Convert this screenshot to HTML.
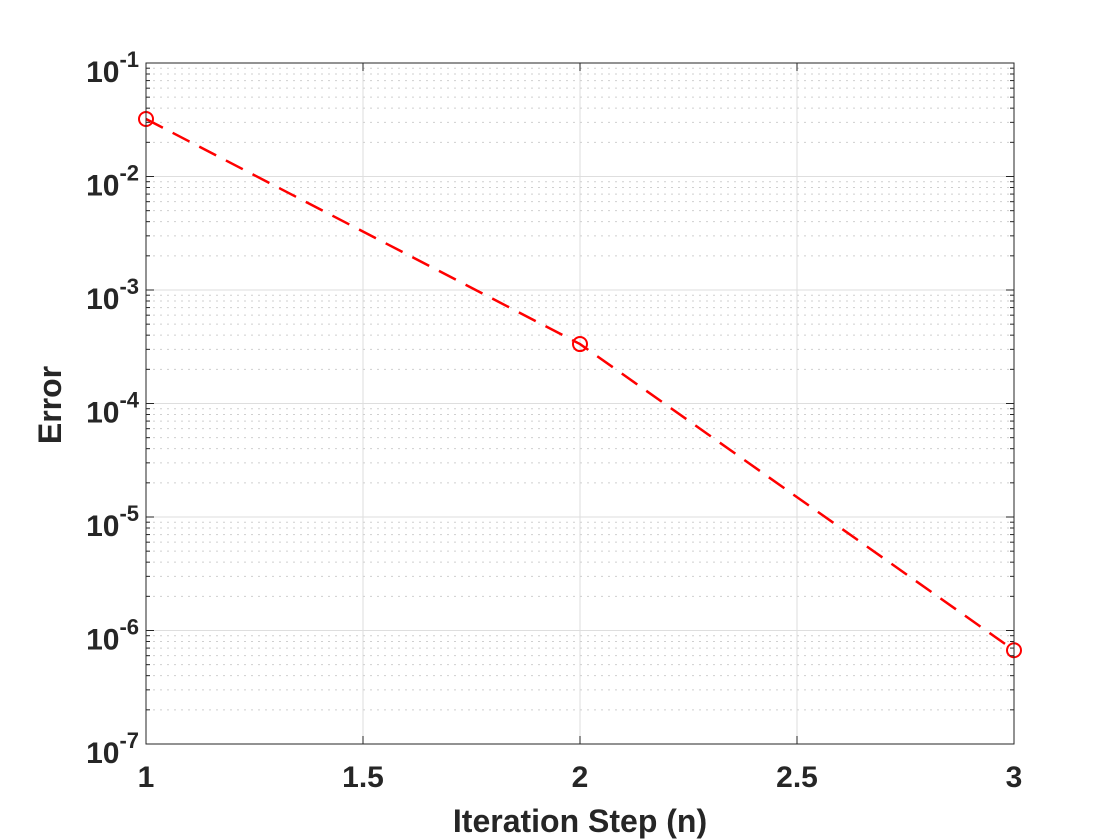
<!DOCTYPE html>
<html><head><meta charset="utf-8"><style>
html,body{margin:0;padding:0;background:#fff;}
svg{display:block;font-family:"Liberation Sans",Arial,sans-serif;}
</style></head><body>
<svg id="chart" width="1120" height="840">
<rect width="1120" height="840" fill="#fff"/>
<g id="grid"></g>
<g id="series"></g>
<g id="axes"></g>
<text x="580" y="832" text-anchor="middle" font-size="32" font-weight="bold" fill="#262626">Iteration Step (n)</text>
<text transform="translate(61,405) rotate(-90)" text-anchor="middle" font-size="32" font-weight="bold" fill="#262626">Error</text>
</svg>
<script>
const xs = [1, 2, 3];
const errs = [0.0321, 0.000334, 6.7e-7];
const xTicks = [1, 1.5, 2, 2.5, 3];
const xTickLabels = ["1", "1.5", "2", "2.5", "3"];
const yExps = [-1, -2, -3, -4, -5, -6, -7];

const L=146,R=1014,T=63,B=744;
const xMin=1,xMax=3,yMinE=-7,yMaxE=-1;
const X=v=>L+(v-xMin)/(xMax-xMin)*(R-L);
const Y=v=>T+(yMaxE-Math.log10(v))/(yMaxE-yMinE)*(B-T);
const NS="http://www.w3.org/2000/svg";
function mk(tag,attrs,parent){const e=document.createElementNS(NS,tag);for(const k in attrs)e.setAttribute(k,attrs[k]);parent.appendChild(e);return e;}
const grid=document.getElementById('grid'),axes=document.getElementById('axes'),ser=document.getElementById('series');

xTicks.forEach(t=>{
  const l=mk('line',{x1:X(t),x2:X(t),y1:T,y2:B,stroke:'#dedede','stroke-width':1},grid);
  
  
});
for(let e=yMinE;e<yMaxE;e++){
  for(let m=1;m<10;m++){
    const v=m*Math.pow(10,e);
    const yy=Y(v);
    const l=mk('line',{x1:L,x2:R,y1:yy,y2:yy,stroke:m===1?'#dedede':'#cfcfcf','stroke-width':1,'stroke-dasharray':m===1?'none':'2,5'},grid);
    
    
    if(m>1){
      mk('line',{x1:L,x2:L+4,y1:yy,y2:yy,stroke:'#262626'},axes);
      mk('line',{x1:R,x2:R-4,y1:yy,y2:yy,stroke:'#262626'},axes);
    }
  }
}
const box=mk('rect',{x:L,y:T,width:R-L,height:B-T,fill:'none',stroke:'#262626','stroke-width':1},axes);


xTicks.forEach((t,i)=>{
  mk('line',{x1:X(t),x2:X(t),y1:B,y2:B-8,stroke:'#262626'},axes);
  mk('line',{x1:X(t),x2:X(t),y1:T,y2:T+8,stroke:'#262626'},axes);
  const tx=mk('text',{x:X(t),y:787,'text-anchor':'middle','font-size':30,'font-weight':'bold',fill:'#262626'},axes);
  tx.textContent=xTickLabels[i];
  
  
});
yExps.forEach(e=>{
  const yy=Y(Math.pow(10,e));
  mk('line',{x1:L,x2:L+8,y1:yy,y2:yy,stroke:'#262626'},axes);
  mk('line',{x1:R,x2:R-8,y1:yy,y2:yy,stroke:'#262626'},axes);
  const tx=mk('text',{x:L-7,y:yy+19,'text-anchor':'end','font-size':30,'font-weight':'bold',fill:'#262626'},axes);
  
  
  const a=document.createElementNS(NS,'tspan');a.textContent='10';tx.appendChild(a);
  const b=document.createElementNS(NS,'tspan');b.setAttribute('dy','-15');b.setAttribute('font-size','22');b.textContent=String(e);tx.appendChild(b);
});
const pts=xs.map((x,i)=>X(x)+','+Y(errs[i])).join(' ');
const pl=mk('polyline',{points:pts,fill:'none',stroke:'#ff0000','stroke-width':2.5,'stroke-dasharray':'19,11'},ser);


xs.forEach((x,i)=>{
  const c=mk('circle',{cx:X(x),cy:Y(errs[i]),r:7,fill:'none',stroke:'#ff0000','stroke-width':2},ser);
  
  
});
</script>
</body></html>
